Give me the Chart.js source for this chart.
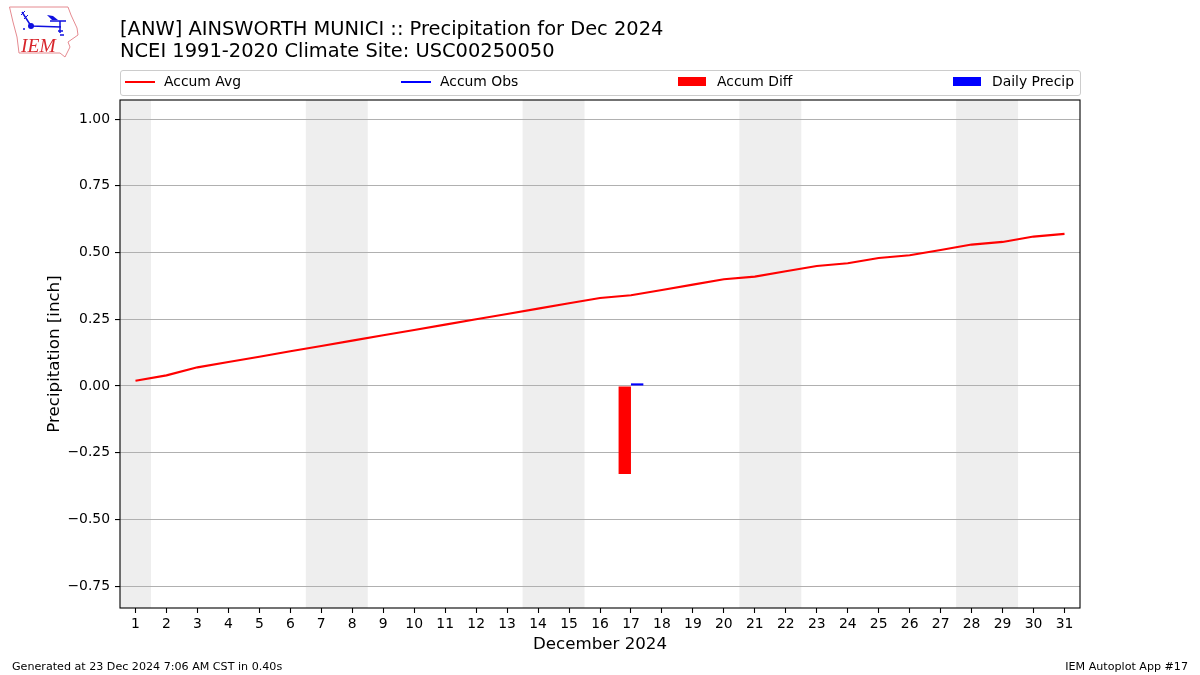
<!DOCTYPE html>
<html>
<head>
<meta charset="utf-8">
<script src="https://cdn.jsdelivr.net/npm/chart.js@4"></script>
<style>
    html, body { margin: 0; padding: 0; background: #fff; }
    body { width: 1200px; height: 675px; position: relative; overflow: hidden; font-family: "DejaVu Sans", sans-serif; color: #000; }
    canvas { position: absolute; left: 0; top: 0; }
    .title { position: absolute; left: 120px; top: 18px; font-size: 19.45px; line-height: 22px; white-space: nowrap; }
    .foot { position: absolute; top: 660px; font-size: 11.12px; line-height: 13px; white-space: nowrap; }
    #legend { position: absolute; left: 120px; top: 70px; border: 1px solid #ccc; border-radius: 3px; box-sizing: border-box; height: 26px; width: 961px; }
    .item { position: absolute; top: 0; line-height: 21px; font-size: 13.9px; white-space: nowrap; }
    .swatch { position: absolute; }
    #logo { position: absolute; left: 0; top: 0; }
</style>
</head>
<body>
<canvas id="chart" width="1200" height="675"></canvas>

<svg id="logo" width="90" height="65" viewBox="0 0 90 65">
    <path d="M9.5 7 L68 7 L71 15 L77 28 L78 35 L68 42 L70 47 L65 57 L60 53 L19 53 L17 37 L13 22 Z" fill="none" stroke="#e58a90" stroke-width="1"/>
    <path d="M22 12 L31 26 L61 27 M66 21 L50 21 M60 21 L60 33 M58 31 L63 31 M60 35 L64 35" fill="none" stroke="#1010e0" stroke-width="1.5"/>
    <path d="M21 15 L25 11 M24 19 L28 15" fill="none" stroke="#1010e0" stroke-width="1"/>
    <path d="M47 15 L53 16 L58 20 L52 20 Z" fill="#1010e0"/>
    <circle cx="31" cy="26" r="3" fill="#1010e0"/>
    <circle cx="24" cy="29" r="1" fill="#1010e0"/>
    <text x="21" y="52" font-family="Liberation Serif" font-style="italic" font-size="19.5" fill="#d8262c">IEM</text>
</svg>

<div class="title">[ANW] AINSWORTH MUNICI :: Precipitation for Dec 2024<br>NCEI 1991-2020 Climate Site: USC00250050</div>
<div id="legend"></div>
<div class="foot" style="left:12px">Generated at 23 Dec 2024 7:06 AM CST in 0.40s</div>
<div class="foot" style="right:12px">IEM Autoplot App #17</div>

<script>
const days = ['1', '2', '3', '4', '5', '6', '7', '8', '9', '10', '11', '12', '13', '14', '15', '16',
    '17', '18', '19', '20', '21', '22', '23', '24', '25', '26', '27', '28', '29', '30', '31'];
const accumAvg = [0.02, 0.04, 0.07, 0.09, 0.11, 0.13, 0.15, 0.17, 0.19, 0.21, 0.23, 0.25, 0.27, 0.29, 0.31, 0.33,
    0.34, 0.36, 0.38, 0.40, 0.41, 0.43, 0.45, 0.46, 0.48, 0.49, 0.51, 0.53, 0.54, 0.56, 0.57];
// obs only reports on the 17th, the line itself never shows up
const accumObs = days.map(() => null);
const accumDiff = days.map(d => d === '17' ? -0.33 : null);
const dailyPrecip = days.map(d => d === '17' ? 0.01 : null);
const yTicks = [-0.75, -0.5, -0.25, 0, 0.25, 0.5, 0.75, 1];
const weekends = [['1', '1'], ['7', '8'], ['14', '15'], ['21', '22'], ['28', '29']];

// weekend bands go under the grid
const weekendBands = {
    id: 'weekendBands',
    beforeDraw(chart) {
        const { ctx, chartArea, scales } = chart;
        const half = (scales.x.getPixelForValue(1) - scales.x.getPixelForValue(0)) / 2;
        ctx.save();
        ctx.fillStyle = '#eeeeee';
        weekends.forEach(([from, to]) => {
            const x0 = Math.max(scales.x.getPixelForValue(days.indexOf(from)) - half, chartArea.left);
            const x1 = scales.x.getPixelForValue(days.indexOf(to)) + half;
            ctx.fillRect(x0, chartArea.top, x1 - x0, chartArea.height);
        });
        ctx.restore();
    }
};

const frame = {
    id: 'frame',
    afterDraw(chart) {
        const { ctx, chartArea } = chart;
        ctx.save();
        ctx.strokeStyle = '#000';
        ctx.lineWidth = 1.1;
        ctx.strokeRect(chartArea.left, chartArea.top, chartArea.width, chartArea.height);
        ctx.restore();
    }
};

const chart = new Chart(document.getElementById('chart'), {
    data: {
        labels: days,
        datasets: [
            { type: 'line', label: 'Accum Avg', data: accumAvg, borderColor: '#ff0000', backgroundColor: '#ff0000', borderWidth: 2.1, pointRadius: 0, tension: 0 },
            { type: 'line', label: 'Accum Obs', data: accumObs, borderColor: '#0000ff', backgroundColor: '#0000ff', borderWidth: 2.1, pointRadius: 0, tension: 0 },
            { type: 'bar', label: 'Accum Diff', data: accumDiff, backgroundColor: '#ff0000', categoryPercentage: 0.8, barPercentage: 1 },
            { type: 'bar', label: 'Daily Precip', data: dailyPrecip, backgroundColor: '#0000ff', categoryPercentage: 0.8, barPercentage: 1 }
        ]
    },
    options: {
        responsive: false,
        animation: false,
        layout: { padding: { top: 100, right: 120, left: 0, bottom: 0 } },
        plugins: { legend: { display: false }, tooltip: { enabled: false } },
        scales: {
            x: {
                type: 'category',
                offset: true,
                afterFit(scale) { scale.height = 67; },
                grid: { display: true, drawOnChartArea: false, tickColor: '#000', tickLength: 5, tickWidth: 1.1, offset: false },
                border: { display: false },
                ticks: { color: '#000', font: { family: 'DejaVu Sans', size: 13.9 }, maxRotation: 0, autoSkip: false, padding: 3 },
                title: { display: true, text: 'December 2024', color: '#000', font: { family: 'DejaVu Sans', size: 16.67 }, padding: { top: 4, bottom: 20 } }
            },
            y: {
                min: -0.8318,
                max: 1.0718,
                afterFit(scale) { scale.width = 120; },
                afterBuildTicks(scale) { scale.ticks = yTicks.map(value => ({ value })); },
                grid: { color: '#b0b0b0', lineWidth: 1.1, tickColor: '#000', tickLength: 5, tickWidth: 1.1 },
                border: { display: false },
                ticks: {
                    color: '#000',
                    font: { family: 'DejaVu Sans', size: 13.9 },
                    padding: 5,
                    callback: v => (v < 0 ? '\u2212' : '') + Math.abs(v).toFixed(2)
                },
                title: { display: true, text: 'Precipitation [inch]', color: '#000', font: { family: 'DejaVu Sans', size: 16.67 }, padding: { top: 45, bottom: 4 } }
            }
        }
    },
    plugins: [weekendBands, frame]
});

// matplotlib style expanded legend, spread over the width of the axes
const legendSlots = [
    { swatch: 4, text: 43 },
    { swatch: 280, text: 319 },
    { swatch: 557, text: 596 },
    { swatch: 832, text: 871 }
];
const legend = document.getElementById('legend');
chart.data.datasets.forEach((ds, i) => {
    const slot = legendSlots[i];
    const swatch = document.createElement('div');
    swatch.className = 'swatch';
    swatch.style.left = slot.swatch + 'px';
    swatch.style.width = ds.type === 'line' ? '30px' : '28px';
    swatch.style.background = ds.backgroundColor;
    swatch.style.top = ds.type === 'line' ? '9.5px' : '6px';
    swatch.style.height = ds.type === 'line' ? '2px' : '9px';
    legend.appendChild(swatch);
    const item = document.createElement('div');
    item.className = 'item';
    item.style.left = slot.text + 'px';
    item.textContent = ds.label;
    legend.appendChild(item);
});
</script>
</body>
</html>
